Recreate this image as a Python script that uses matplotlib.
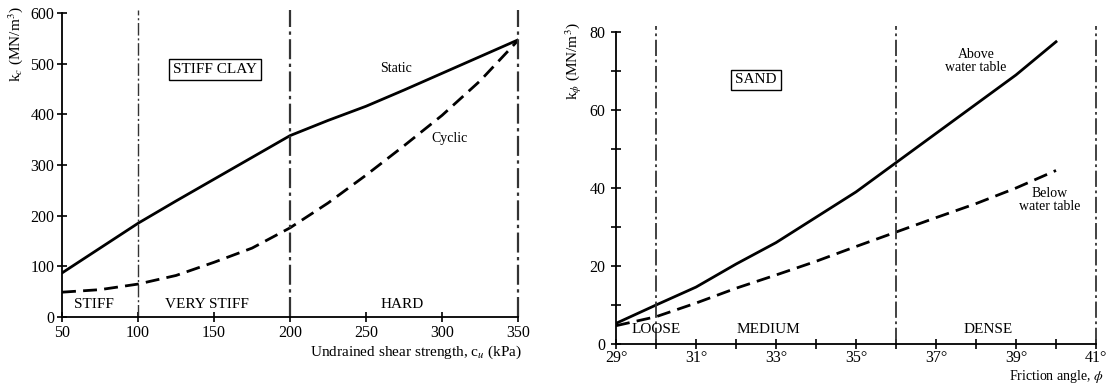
import matplotlib
matplotlib.use("Agg")
import matplotlib.pyplot as plt

plt.rcParams['font.family'] = ['Liberation Serif', 'DejaVu Serif']
plt.rcParams['mathtext.fontset'] = 'stix'

# Stiff clay: modulus vs undrained shear strength
cu_kpa = [50, 75, 100, 125, 150, 175, 200, 225, 250, 275, 300, 325, 350]
kc_static = [87, 136, 185, 229, 272, 315, 358, 388, 416, 448, 481, 514, 547]
kc_cyclic = [49, 54, 65, 82, 108, 136, 176, 225, 280, 338, 398, 466, 546]
clay_limits = [100, 200, 350]
clay_zones = ["STIFF", "VERY STIFF", "HARD"]
clay_zone_x = [71, 145, 274]
clay_xticks = [50, 100, 150, 200, 250, 300, 350]
clay_yticks = [0, 100, 200, 300, 400, 500, 600]

# Sand: modulus vs friction angle
phi_deg = [29, 30, 31, 32, 33, 34, 35, 36, 37, 38, 39, 40]
kphi_above = [5.3, 10, 14.6, 20.5, 26, 32.5, 39, 46.5, 54, 61.5, 69, 77.5]
kphi_below = [4.7, 7, 10.5, 14.3, 17.7, 21.2, 25, 28.7, 32.4, 36, 40, 44.5]
sand_limits = [30, 36, 41]
sand_zones = ["LOOSE", "MEDIUM", "DENSE"]
sand_zone_x = [30.0, 32.8, 38.3]
sand_xticks = list(range(29, 42))
sand_yticks = list(range(0, 81, 10))

fig = plt.figure(figsize=(11.1, 3.83), dpi=100)
ax1 = fig.add_axes([0.0559, 0.1723, 0.4108, 0.7937])
ax2 = fig.add_axes([0.555, 0.1018, 0.4324, 0.8146])

fs = 11
dash_lim = (0, (9, 2, 1.5, 2))
dash_curve = (0, (5, 2.6))

for ax in (ax1, ax2):
    for s in ('top', 'right'):
        ax.spines[s].set_visible(False)
    for s in ('left', 'bottom'):
        ax.spines[s].set_linewidth(1.3)
    ax.tick_params(direction='inout', length=7, width=1.2, labelsize=11.5,
                   pad=2)
ax2.tick_params(axis='x', pad=1)
ax2.tick_params(axis='y', pad=4)

# ---- left panel ----
ax1.set_xlim(50, 350)
ax1.set_ylim(0, 600)
ax1.set_xticks(clay_xticks)
ax1.set_yticks(clay_yticks)
ax1.plot(cu_kpa, kc_static, color='black', lw=2)
ax1.plot(cu_kpa, kc_cyclic, color='black', lw=2, linestyle=dash_curve)
for i, x in enumerate(clay_limits):
    ax1.plot([x, x], [0, 605], color='#333333', lw=1.0 if i == 0 else 1.6,
             linestyle=dash_lim, clip_on=False)
for name, x in zip(clay_zones, clay_zone_x):
    ax1.text(x, 24, name, ha='center', va='center', fontsize=fs)
ax1.text(150.5, 489, "STIFF CLAY", ha='center', va='center', fontsize=fs,
         bbox=dict(boxstyle='square,pad=0.25', fc='white', ec='black', lw=1))
ax1.text(270, 491, "Static", ha='center', va='center', fontsize=fs - 1)
ax1.text(305, 353, "Cyclic", ha='center', va='center', fontsize=fs - 1)
ax1.text(353, -70, r"Undrained shear strength, c$_u$ (kPa)", ha='right',
         va='center', fontsize=fs)
fig.text(0.014, 0.885, r"k$_c$ (MN/m$^3$)", rotation=90, ha='center',
         va='center', fontsize=fs)

# ---- right panel ----
ax2.set_xlim(29, 41)
ax2.set_ylim(0, 80)
ax2.set_xticks(sand_xticks)
ax2.set_xticklabels([f"{v}°" if v % 2 else "" for v in sand_xticks])
ax2.set_yticks(sand_yticks)
ax2.set_yticklabels([str(v) if v % 20 == 0 else "" for v in sand_yticks])
ax2.plot(phi_deg, kphi_above, color='black', lw=2)
ax2.plot(phi_deg, kphi_below, color='black', lw=2, linestyle=dash_curve)
for x in sand_limits:
    ax2.plot([x, x], [0, 81.5], color='#333333', lw=1.3,
             linestyle=dash_lim, clip_on=False)
for name, x in zip(sand_zones, sand_zone_x):
    ax2.text(x, 3.6, name, ha='center', va='center', fontsize=fs)
ax2.text(32.5, 67.7, "SAND", ha='center', va='center', fontsize=fs,
         bbox=dict(boxstyle='square,pad=0.25', fc='white', ec='black', lw=1))
ax2.text(38.0, 72.5, "Above\nwater table", ha='center', va='center',
         fontsize=fs - 1, linespacing=1.0)
ax2.text(39.85, 37, "Below\nwater table", ha='center', va='center',
         fontsize=fs - 1, linespacing=1.0)
ax2.text(41.2, -8.3, r"Friction angle, $\phi$", ha='right', va='center',
         fontsize=fs - 1)
fig.text(0.517, 0.84, r"k$_\phi$ (MN/m$^3$)", rotation=90, ha='center',
         va='center', fontsize=fs)

fig.savefig("out.png", dpi=100)
